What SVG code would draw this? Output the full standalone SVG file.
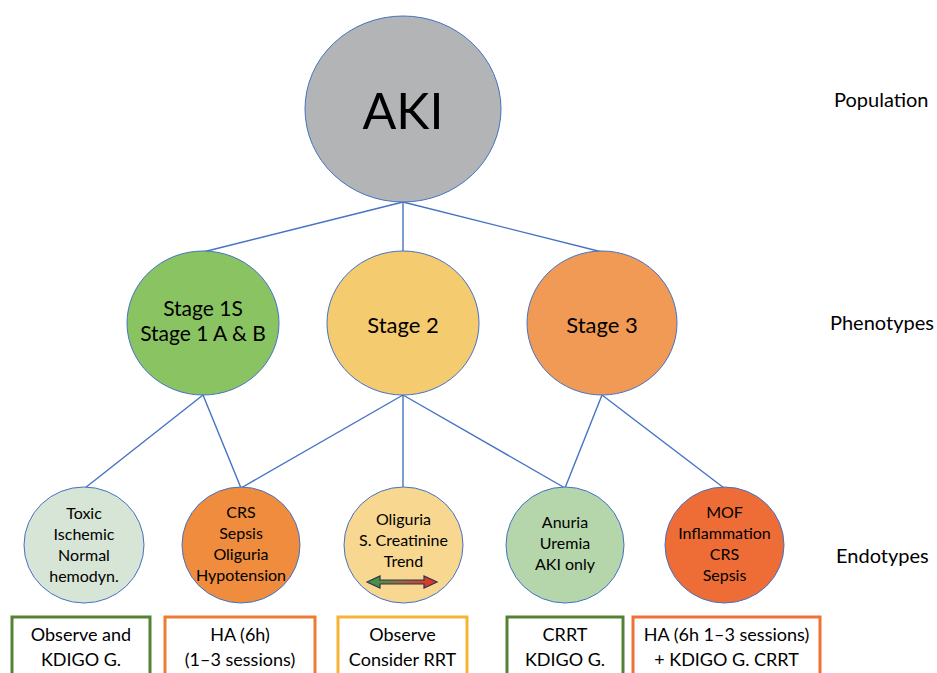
<svg xmlns="http://www.w3.org/2000/svg" width="937" height="673" viewBox="0 0 937 673">
<style>
text{font-family:Lato,"Liberation Sans",sans-serif;fill:#000;text-anchor:middle}
.n{stroke:#4472C4;stroke-width:1}
.c line{stroke:#4472C4;stroke-width:1.4}
.s{font-size:22px}
.s1{font-size:21px}
.e{font-size:16px}
.b{font-size:18px}
.lab{font-size:20px;text-anchor:start}
.box{fill:#fff;stroke-width:3}
</style>
<defs>
<linearGradient id="g" x1="0" x2="1" y1="0" y2="0">
<stop offset="0" stop-color="#2E9E47"/>
<stop offset="0.5" stop-color="#9A6A3A"/>
<stop offset="1" stop-color="#EE2A24"/>
</linearGradient>
</defs>
<rect width="937" height="673" fill="#fff"/>
<g class="c" id="connectors">
<line x1="403" y1="202" x2="203" y2="252"/>
<line x1="403" y1="202" x2="403" y2="252"/>
<line x1="403" y1="202" x2="602" y2="252"/>
<line x1="203" y1="395" x2="85" y2="488"/>
<line x1="203" y1="395" x2="241" y2="488"/>
<line x1="403" y1="395" x2="241" y2="488"/>
<line x1="403" y1="395" x2="403" y2="488"/>
<line x1="403" y1="395" x2="565" y2="488"/>
<line x1="602" y1="395" x2="565" y2="488"/>
<line x1="602" y1="395" x2="724" y2="488"/>
</g>
<g id="aki"><ellipse class="n" cx="403" cy="109" rx="98" ry="93" fill="#B3B4B6"/><text x="403" y="129" style="font-size:50px">AKI</text></g>
<g id="stage1"><ellipse class="n" cx="203" cy="323" rx="76" ry="72" fill="#8AC462"/><text class="s s1" x="203" y="316">Stage 1S</text><text class="s s1" x="203" y="341">Stage 1 A &amp; B</text></g>
<g id="stage2"><ellipse class="n" cx="403" cy="323" rx="76" ry="72" fill="#F5CB6F"/><text class="s" x="403" y="333">Stage 2</text></g>
<g id="stage3"><ellipse class="n" cx="602" cy="323" rx="75" ry="72" fill="#F19A55"/><text class="s" x="602" y="333">Stage 3</text></g>
<g id="toxic"><ellipse class="n" cx="84" cy="545" rx="60" ry="58" fill="#D6E5D5"/><text class="e" x="84" y="519">Toxic</text><text class="e" x="84" y="540">Ischemic</text><text class="e" x="84" y="561">Normal</text><text class="e" x="84" y="582">hemodyn.</text></g>
<g id="crs"><ellipse class="n" cx="241" cy="545" rx="59" ry="58" fill="#EF8C3D"/><text class="e" x="241" y="518">CRS</text><text class="e" x="241" y="539">Sepsis</text><text class="e" x="241" y="560">Oliguria</text><text class="e" x="241" y="581">Hypotension</text></g>
<g id="oliguria"><ellipse class="n" cx="403.5" cy="545" rx="59.5" ry="58" fill="#F8D890"/><text class="e" x="403.5" y="525">Oliguria</text><text class="e" x="403.5" y="546">S. Creatinine</text><text class="e" x="403.5" y="567">Trend</text>
<path d="M367,582 L380,576 L380,580 L424,580 L424,576 L437,582 L424,588 L424,584 L380,584 L380,588 Z" fill="url(#g)" stroke="#2F3350" stroke-width="1.2" stroke-linejoin="miter"/></g>
<g id="anuria"><ellipse class="n" cx="565" cy="545" rx="59" ry="58" fill="#B5D6AA"/><text class="e" x="565" y="528">Anuria</text><text class="e" x="565" y="549">Uremia</text><text class="e" x="565" y="570">AKI only</text></g>
<g id="mof"><ellipse class="n" cx="724.5" cy="545" rx="59.5" ry="58" fill="#EE6C36"/><text class="e" x="724.5" y="518">MOF</text><text class="e" x="724.5" y="539">Inflammation</text><text class="e" x="724.5" y="560">CRS</text><text class="e" x="724.5" y="581">Sepsis</text></g>
<g id="box1"><rect class="box" x="12" y="617" width="138" height="70" stroke="#548235"/><text class="b" x="81" y="641">Observe and</text><text class="b" x="81" y="666">KDIGO G.</text></g>
<g id="box2"><rect class="box" x="165" y="617" width="150" height="70" stroke="#ED7D31"/><text class="b" x="240" y="641">HA (6h)</text><text class="b" x="240" y="666">(1–3 sessions)</text></g>
<g id="box3"><rect class="box" x="338" y="617" width="129" height="70" stroke="#F7B335"/><text class="b" x="402.5" y="641">Observe</text><text class="b" x="402.5" y="666">Consider RRT</text></g>
<g id="box4"><rect class="box" x="507" y="617" width="116" height="70" stroke="#548235"/><text class="b" x="565" y="641">CRRT</text><text class="b" x="565" y="666">KDIGO G.</text></g>
<g id="box5"><rect class="box" x="633" y="617" width="187" height="70" stroke="#F07136"/><text class="b" x="726.5" y="641">HA (6h 1–3 sessions)</text><text class="b" x="726.5" y="666">+ KDIGO G. CRRT</text></g>
<g id="labels"><text class="lab" x="834" y="107">Population</text><text class="lab" x="830" y="330">Phenotypes</text><text class="lab" x="836" y="563">Endotypes</text></g>
</svg>
